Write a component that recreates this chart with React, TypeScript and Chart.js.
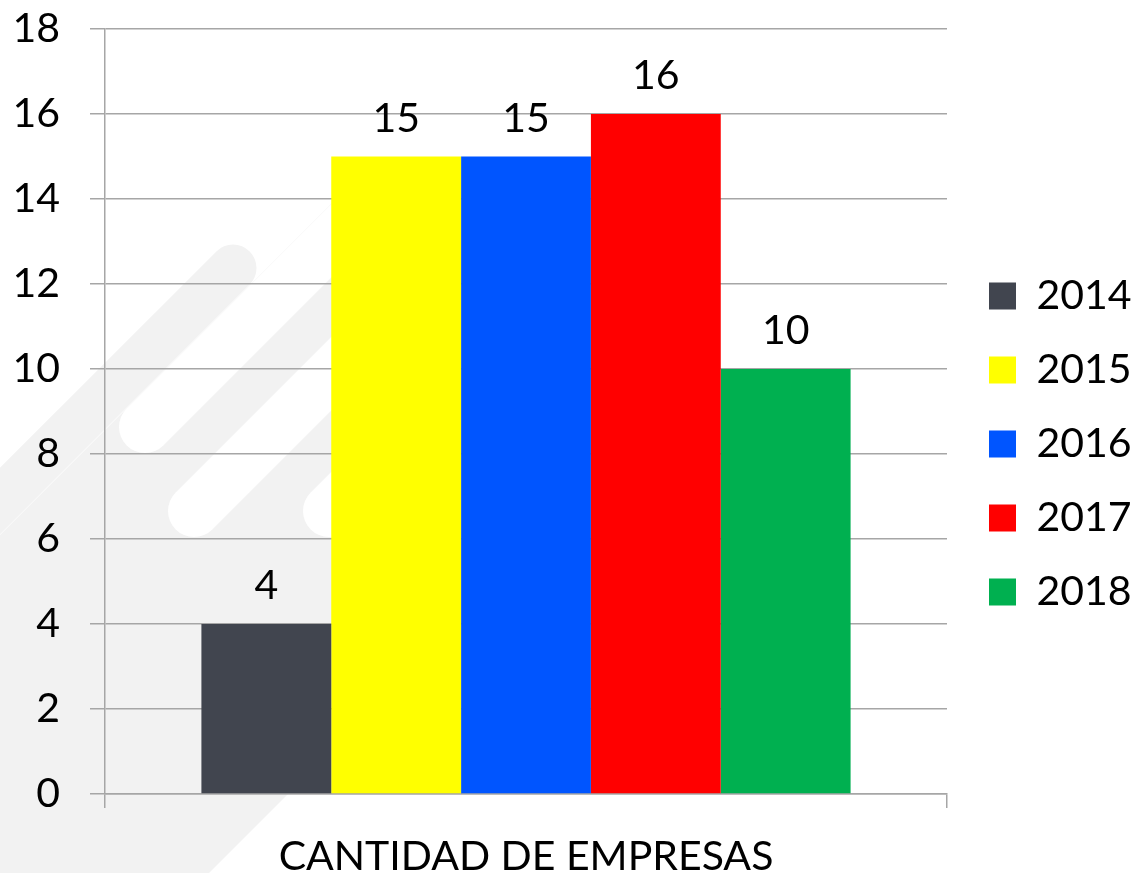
import React, { useEffect, useRef } from 'react';
import { Chart, registerables } from 'chart.js';

Chart.register(...registerables);

const categories = ['CANTIDAD DE EMPRESAS'];
const seriesLabels = ['2014', '2015', '2016', '2017', '2018'];
const series2014 = [4];
const series2015 = [15];
const series2016 = [15];
const series2017 = [16];
const series2018 = [10];
const seriesValues = [series2014, series2015, series2016, series2017, series2018];
const seriesColors = ['#41454f', '#ffff00', '#0055ff', '#ff0000', '#00b050'];
const yMin = 0;
const yMax = 18;
const yStep = 2;

const FONT = 'Lato, "Open Sans", sans-serif';
const FONT_SIZE = 41;
const GRID = '#a6a6a6';
const BG_GRAY = '#f2f2f2';

const backgroundPlugin = {
  id: 'slideBackground',
  beforeDraw(chart: any) {
    const { ctx, width, height } = chart;
    ctx.save();
    ctx.fillStyle = '#ffffff';
    ctx.fillRect(0, 0, width, height);
    ctx.fillStyle = BG_GRAY;
    ctx.beginPath();
    ctx.moveTo(340, 195);
    ctx.lineTo(340, 742);
    ctx.lineTo(209, 873);
    ctx.lineTo(0, 873);
    ctx.lineTo(0, 535);
    ctx.closePath();
    ctx.fill();
    ctx.lineCap = 'round';
    ctx.strokeStyle = '#ffffff';
    ctx.lineWidth = 52;
    const whiteStripes = [
      [145, 427],
      [194, 511],
      [329, 511],
    ];
    for (const [cx, cy] of whiteStripes) {
      ctx.beginPath();
      ctx.moveTo(cx, cy);
      ctx.lineTo(cx + 500, cy - 500);
      ctx.stroke();
    }
    ctx.strokeStyle = BG_GRAY;
    ctx.lineWidth = 47;
    ctx.beginPath();
    ctx.moveTo(233, 268);
    ctx.lineTo(-400, 901);
    ctx.stroke();
    ctx.restore();
  },
};

const valueLabelPlugin = {
  id: 'valueLabels',
  afterDatasetsDraw(chart: any) {
    const { ctx } = chart;
    ctx.save();
    ctx.font = `${FONT_SIZE}px ${FONT}`;
    ctx.fillStyle = '#000000';
    ctx.textAlign = 'center';
    ctx.textBaseline = 'alphabetic';
    chart.data.datasets.forEach((ds: any, i: number) => {
      const meta = chart.getDatasetMeta(i);
      meta.data.forEach((bar: any, j: number) => {
        ctx.fillText(String(ds.data[j]), bar.x, bar.y - 25);
      });
    });
    ctx.restore();
  },
};

const legendShiftPlugin = {
  id: 'legendShift',
  afterLayout(chart: any) {
    const lg = chart.legend;
    if (!lg) return;
    const dx = 956 - lg.left;
    lg.left += dx;
    lg.right += dx;
  },
};

export default function App() {
  const canvasRef = useRef<HTMLCanvasElement | null>(null);

  useEffect(() => {
    document.body.style.margin = '0';
    const canvas = canvasRef.current;
    if (!canvas) return;
    const chart = new Chart(canvas, {
      type: 'bar',
      data: {
        labels: categories,
        datasets: seriesLabels.map((label, i) => ({
          label,
          data: seriesValues[i],
          backgroundColor: seriesColors[i],
          borderWidth: 0,
          categoryPercentage: 0.771,
          barPercentage: 1,
        })),
      },
      options: {
        responsive: false,
        animation: false,
        layout: { padding: { top: 15, bottom: 0, left: 0, right: 0 } },
        plugins: {
          legend: {
            position: 'right',
            labels: {
              boxWidth: 27,
              boxHeight: 27,
              padding: 74 - FONT_SIZE,
              color: '#000000',
              font: { family: FONT, size: FONT_SIZE },
            },
          },
          tooltip: { enabled: false },
        },
        scales: {
          x: {
            grid: { drawOnChartArea: false, drawTicks: true, tickLength: 14, color: GRID, lineWidth: 1.5 },
            border: { display: true, color: GRID, width: 1.5 },
            ticks: { color: '#000000', font: { family: FONT, size: FONT_SIZE }, padding: 24, maxRotation: 0 },
            afterFit(s: any) {
              s.height = 79;
              s.paddingLeft = 0;
              s.paddingRight = 189;
            },
          },
          y: {
            min: yMin,
            max: yMax,
            ticks: { stepSize: yStep, color: '#000000', font: { family: FONT, size: FONT_SIZE }, padding: 30 },
            grid: { color: GRID, lineWidth: 1.5, tickLength: 15 },
            border: { display: true, color: GRID, width: 1.5 },
            afterFit(s: any) {
              s.width = 105;
              s.paddingTop = 29;
              s.paddingBottom = 0;
            },
          },
        },
      },
      plugins: [backgroundPlugin, valueLabelPlugin, legendShiftPlugin],
    });
    return () => chart.destroy();
  }, []);

  return (
    <div style={{ width: 1136, height: 873 }}>
      <canvas ref={canvasRef} width={1136} height={873} style={{ display: 'block' }} />
    </div>
  );
}
